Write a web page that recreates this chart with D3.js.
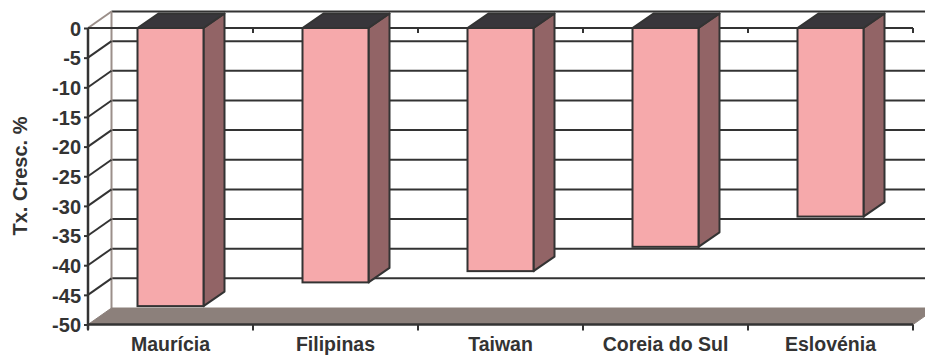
<!DOCTYPE html>
<html>
<head>
<meta charset="utf-8">
<script src="https://cdn.jsdelivr.net/npm/d3@7"></script>
<style>
  html, body { margin: 0; padding: 0; background: #fff; }
  svg { display: block; }
  text { font-family: "Liberation Sans", Arial, sans-serif; font-weight: bold; fill: #333; }
</style>
</head>
<body>
<svg id="chart" width="925" height="356"></svg>
<script>
// Growth rate by country (%)
const categories = ["Maurícia", "Filipinas", "Taiwan", "Coreia do Sul", "Eslovénia"];
const values = [-46.9, -42.9, -41.0, -36.9, -31.8];
const yTicks = [0, -5, -10, -15, -20, -25, -30, -35, -40, -45, -50];
const yTitle = "Tx. Cresc. %";

const svg = d3.select("#chart");

// front plane of the 3-D box and the depth offset to the back wall
const left = 88, right = 913;
const depth = { dx: 23.5, dy: -16.5 };
const barDepth = { dx: 21, dy: -14.5 };

const x = d3.scaleBand().domain(categories).range([left, right])
  .paddingInner(0.6).paddingOuter(0.3);
const y = d3.scaleLinear().domain([-50, 0]).range([324.5, 28]);

const ink = "#333";
const wallEdge = "#9b8f8a";

// back wall
svg.append("rect")
  .attr("x", left + depth.dx).attr("y", y(0) + depth.dy)
  .attr("width", right - left).attr("height", y(-50) - y(0))
  .attr("fill", "#fff");

// gridlines on the back wall
svg.append("g").selectAll("line").data(yTicks.filter(d => d > -50)).join("line")
  .attr("x1", left + depth.dx).attr("x2", right + depth.dx)
  .attr("y1", d => y(d) + depth.dy).attr("y2", d => y(d) + depth.dy)
  .attr("stroke", ink).attr("stroke-width", 2);

// side wall: back edge and its diagonal gridlines
svg.append("line")
  .attr("x1", left + depth.dx).attr("x2", left + depth.dx)
  .attr("y1", y(0) + depth.dy).attr("y2", y(-50) + depth.dy)
  .attr("stroke", wallEdge).attr("stroke-width", 2);
svg.append("g").selectAll("line").data(yTicks.filter(d => d < 0 && d > -50)).join("line")
  .attr("x1", left).attr("y1", d => y(d))
  .attr("x2", left + depth.dx).attr("y2", d => y(d) + depth.dy)
  .attr("stroke", ink).attr("stroke-width", 2);
svg.append("line")
  .attr("x1", left).attr("y1", y(0))
  .attr("x2", left + depth.dx).attr("y2", y(0) + depth.dy)
  .attr("stroke", wallEdge).attr("stroke-width", 2);

// floor
const floorPts = [
  [left, y(-50)], [right, y(-50)],
  [right + depth.dx, y(-50) + depth.dy], [left + depth.dx, y(-50) + depth.dy]
];
svg.append("path")
  .attr("d", d3.line()(floorPts) + "Z")
  .attr("fill", "#8c807b").attr("stroke", "#8c807b").attr("stroke-width", 1);

// category axis along the top of the front plane (value 0)
const bounds = d3.range(categories.length + 1).map(i => left + i * x.step());
svg.append("line")
  .attr("x1", left).attr("x2", right).attr("y1", y(0)).attr("y2", y(0))
  .attr("stroke", ink).attr("stroke-width", 2);
svg.append("g").selectAll("line").data(bounds.slice(1)).join("line")
  .attr("x1", d => d).attr("x2", d => d)
  .attr("y1", y(0)).attr("y2", y(0) + 5)
  .attr("stroke", ink).attr("stroke-width", 2);

// category axis along the front edge of the floor
svg.append("line")
  .attr("x1", left).attr("x2", right).attr("y1", y(-50)).attr("y2", y(-50))
  .attr("stroke", ink).attr("stroke-width", 2.5);
svg.append("g").selectAll("line").data(bounds).join("line")
  .attr("x1", d => d).attr("x2", d => d)
  .attr("y1", y(-50)).attr("y2", y(-50) + 6)
  .attr("stroke", ink).attr("stroke-width", 2);

// bars
const bars = svg.append("g").selectAll("g").data(categories.map((c, i) => ({ c, v: values[i] })))
  .join("g");
bars.each(function (d) {
  const g = d3.select(this);
  const x0 = x(d.c), x1 = x0 + x.bandwidth();
  const yt = y(0), yb = y(d.v);
  const { dx, dy } = barDepth;
  g.append("path") // side face
    .attr("d", d3.line()([[x1, yt], [x1 + dx, yt + dy], [x1 + dx, yb + dy], [x1, yb]]) + "Z")
    .attr("fill", "#926466").attr("stroke", ink).attr("stroke-width", 2).attr("stroke-linejoin", "round");
  g.append("path") // top face
    .attr("d", d3.line()([[x0, yt], [x0 + dx, yt + dy], [x1 + dx, yt + dy], [x1, yt]]) + "Z")
    .attr("fill", "#38363b").attr("stroke", ink).attr("stroke-width", 2).attr("stroke-linejoin", "round");
  g.append("rect") // front face
    .attr("x", x0).attr("y", yt).attr("width", x1 - x0).attr("height", yb - yt)
    .attr("fill", "#f6a9ab").attr("stroke", ink).attr("stroke-width", 2);
});

// value axis on the front-left edge
const yAxis = d3.axisLeft(y).tickValues(yTicks).tickSize(4).tickPadding(3).tickFormat(d => String(d));
const ya = svg.append("g").attr("transform", `translate(${left},0)`).call(yAxis);
ya.select(".domain").attr("stroke", ink).attr("stroke-width", 2.5).attr("d", `M0,${y(0)}V${y(-50) + 5}`);
ya.selectAll(".tick line").attr("stroke", ink).attr("stroke-width", 2);
ya.selectAll(".tick text")
  .attr("font-size", 20)
  .attr("dy", "0.36em");

// category labels
svg.append("g").selectAll("text").data(categories).join("text")
  .attr("x", d => x(d) + x.bandwidth() / 2).attr("y", 350.5)
  .attr("text-anchor", "middle").attr("font-size", 19.5)
  .text(d => d);

// value axis title
svg.append("text")
  .attr("transform", `translate(27,176) rotate(-90)`)
  .attr("text-anchor", "middle").attr("font-size", 20)
  .text(yTitle);
</script>
</body>
</html>
